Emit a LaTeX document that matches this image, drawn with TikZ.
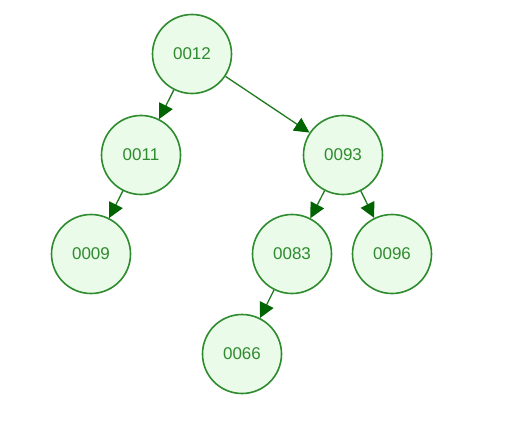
\documentclass[tikz,border=0pt]{standalone}
\usepackage{fontspec}
\setmainfont{Liberation Sans}
\usetikzlibrary{arrows.meta}
\definecolor{nodeborder}{HTML}{2E8B2E}
\definecolor{nodefill}{HTML}{EAFBEA}
\definecolor{nodetext}{HTML}{2E8B2E}
\definecolor{edgecol}{HTML}{1F7A1F}
\definecolor{tipcol}{HTML}{006400}
\begin{document}
\begin{tikzpicture}[x=1pt,y=-1pt,
  treenode/.style={circle,draw=nodeborder,fill=nodefill,line width=1.6pt,minimum size=79pt,inner sep=0pt,text=nodetext,font=\fontsize{17}{17}\selectfont},
  edge/.style={draw=edgecol,line width=1.3pt,-{Triangle[length=15pt,width=15pt,fill=tipcol,color=tipcol]}}]
\useasboundingbox[fill=white] (0,0) rectangle (518,430);
\node[treenode] (n12) at (192,54) {0012};
\node[treenode] (n11) at (141,155) {0011};
\node[treenode] (n93) at (343,155) {0093};
\node[treenode] (n09) at (91,254) {0009};
\node[treenode] (n83) at (292,254) {0083};
\node[treenode] (n96) at (392,254) {0096};
\node[treenode] (n66) at (242,354) {0066};
\draw[edge] (n12) -- (n11);
\draw[edge] (n12) -- (n93);
\draw[edge] (n11) -- (n09);
\draw[edge] (n93) -- (n83);
\draw[edge] (n93) -- (n96);
\draw[edge] (n83) -- (n66);
\end{tikzpicture}
\end{document}
